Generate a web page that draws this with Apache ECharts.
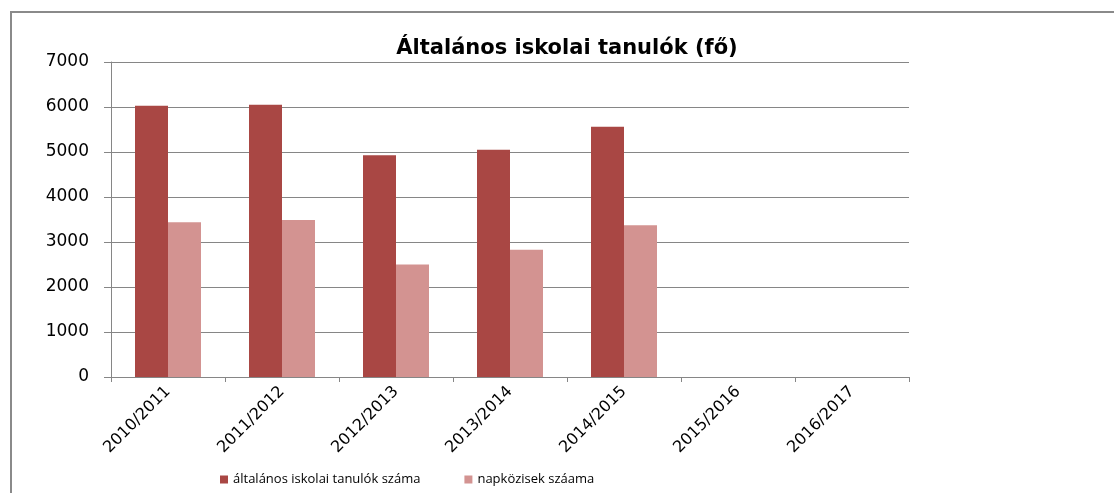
<!DOCTYPE html>
<html>
<head>
<meta charset="utf-8">
<script src="https://cdn.jsdelivr.net/npm/echarts@6/dist/echarts.min.js"></script>
<style>
  html, body { margin: 0; padding: 0; background: #fff; }
  #chart { width: 1114px; height: 493px; }
</style>
</head>
<body>
<div id="chart"></div>
<script>
// tanévek
var categories = ['2010/2011', '2011/2012', '2012/2013', '2013/2014', '2014/2015', '2015/2016', '2016/2017'];
// általános iskolai tanulók száma
var tanulok = [6030, 6050, 4930, 5050, 5560, null, null];
// napközisek száma
var napkozisek = [3440, 3490, 2500, 2830, 3370, null, null];
var yTicks = [0, 1000, 2000, 3000, 4000, 5000, 6000, 7000];

var wide = '"DejaVu Sans", "Open Sans", sans-serif';
var font = '"Open Sans", "DejaVu Sans", sans-serif';
var myChart = echarts.init(document.getElementById('chart'));

var option = {
  animation: false,
  textStyle: { fontFamily: wide },
  title: {
    text: 'Általános iskolai tanulók (fő)',
    left: 562,
    textAlign: 'center',
    top: 33,
    textStyle: { fontSize: 21, fontWeight: 'bold', color: '#000', fontFamily: wide }
  },
  graphic: [{
    type: 'rect',
    shape: { x: 11, y: 12, width: 1200, height: 600 },
    style: { fill: 'none', stroke: '#8a8a8a', lineWidth: 2 },
    silent: true
  }],
  legend: {
    left: 215,
    top: 468,
    itemWidth: 8,
    itemHeight: 8,
    itemGap: 44,
    icon: 'rect',
    textStyle: { fontSize: 13, color: '#000', fontFamily: font },
    data: ['általános iskolai tanulók száma', 'napközisek száama']
  },
  grid: { left: 111, right: 205, top: 62, bottom: 116 },
  xAxis: {
    type: 'category',
    data: categories,
    axisLine: { lineStyle: { color: '#868686' } },
    axisTick: { show: true, length: 5, lineStyle: { color: '#868686' } },
    axisLabel: { rotate: 45, fontSize: 16, color: '#000', margin: 12, interval: 0, fontFamily: wide }
  },
  yAxis: {
    type: 'value',
    min: yTicks[0],
    max: yTicks[yTicks.length - 1],
    interval: 1000,
    axisLine: { show: true, lineStyle: { color: '#868686' } },
    axisTick: { show: true, length: 7, lineStyle: { color: '#868686' } },
    axisLabel: {
      fontSize: 17, color: '#000', margin: 22, fontFamily: wide,
      formatter: function (v) { return String(v); }
    },
    splitLine: { lineStyle: { color: '#868686' } }
  },
  series: [
    {
      name: 'általános iskolai tanulók száma',
      type: 'bar',
      data: tanulok,
      barWidth: 33,
      barGap: '0%',
      itemStyle: { color: '#a94744' }
    },
    {
      name: 'napközisek száama',
      type: 'bar',
      data: napkozisek,
      barWidth: 33,
      itemStyle: { color: '#d39391' }
    }
  ]
};
myChart.setOption(option);
</script>
</body>
</html>
